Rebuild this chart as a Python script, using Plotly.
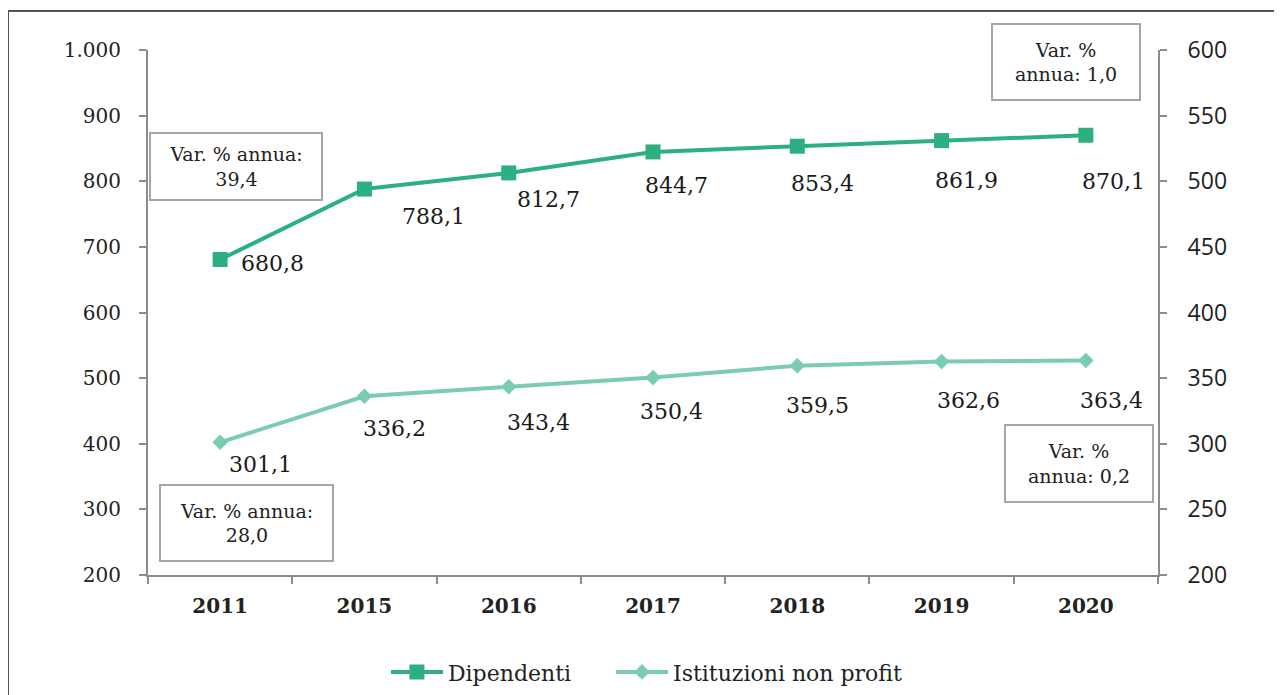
import plotly.graph_objects as go

anni = ["2011", "2015", "2016", "2017", "2018", "2019", "2020"]
dipendenti = [680.8, 788.1, 812.7, 844.7, 853.4, 861.9, 870.1]
istituzioni = [301.1, 336.2, 343.4, 350.4, 359.5, 362.6, 363.4]

box_testi = ["Var. % annua:<br>39,4", "Var. % annua:<br>28,0",
             "Var. %<br>annua: 1,0", "Var. %<br>annua: 0,2"]

VERDE = "#2DB07F"
VERDE_CHIARO = "#7ACDAF"
GRIGIO = "#8C8C8C"
SERIF = "DejaVu Serif, serif"

# spostamenti (px) delle etichette rispetto al punto
off_dip = [(52, -4), (69, -27), (40, -27), (23, -34), (25, -37), (25, -40), (28, -46)]
off_ist = [(40, -22), (30, -32), (30, -36), (18, -34), (20, -40), (27, -39), (26, -40)]


def fmt(v):
    return f"{v:.1f}".replace(".", ",")


fig = go.Figure()
fig.add_trace(go.Scatter(x=anni, y=dipendenti, name="Dipendenti&nbsp;&nbsp;&nbsp;&nbsp;&nbsp;",
                         mode="lines+markers",
                         line=dict(color=VERDE, width=4),
                         marker=dict(symbol="square", size=15, color=VERDE)))
fig.add_trace(go.Scatter(x=anni, y=istituzioni, name="Istituzioni non profit", mode="lines+markers",
                         yaxis="y2",
                         line=dict(color=VERDE_CHIARO, width=4),
                         marker=dict(symbol="diamond", size=12, color=VERDE_CHIARO)))

annotazioni = []
# etichette valori (asse categorico: x = indice della categoria)
for i, v in enumerate(dipendenti):
    xs, ys = off_dip[i]
    annotazioni.append(dict(x=i, y=v, xref="x", yref="y", text=fmt(v), showarrow=False,
                            xshift=xs, yshift=ys, font=dict(family=SERIF, size=22, color="#1a1a1a")))
for i, v in enumerate(istituzioni):
    xs, ys = off_ist[i]
    annotazioni.append(dict(x=i, y=v, xref="x", yref="y2", text=fmt(v), showarrow=False,
                            xshift=xs, yshift=ys, font=dict(family=SERIF, size=22, color="#1a1a1a")))

# riquadri con variazione % annua
box_pos = [(0.0871, 0.778, 168, 63), (0.0975, 0.099, 169, 72),
           (0.909, 0.977, 144, 72), (0.922, 0.2124, 144, 73)]
for t, (bx, by, bw, bh) in zip(box_testi, box_pos):
    annotazioni.append(dict(x=bx, y=by, xref="paper", yref="paper", text=t, showarrow=False,
                            xanchor="center", yanchor="middle", width=bw, height=bh,
                            bordercolor="#A6A6A6", borderwidth=2, bgcolor="white",
                            font=dict(family=SERIF, size=19, color="#222")))

fig.update_layout(
    width=1274, height=687,
    margin=dict(l=140, r=124, t=42, b=120, autoexpand=False),
    paper_bgcolor="white", plot_bgcolor="white",
    separators=",.",
    showlegend=True,
    legend=dict(orientation="h", x=0.494, xanchor="center", y=-0.185, yanchor="middle",
                font=dict(family=SERIF, size=22, color="#222"), itemwidth=52,
                tracegroupgap=0),
    annotations=annotazioni,
    xaxis=dict(type="category", range=[-0.5, 6.5], showline=True, linecolor=GRIGIO, linewidth=2,
               ticks="outside", tickson="boundaries", ticklen=7, tickcolor=GRIGIO, tickwidth=2,
               ticklabelstandoff=12,
               showgrid=False, tickfont=dict(family=SERIF, size=20, color="#222", weight="bold")),
    yaxis=dict(range=[200, 1000], dtick=100, tickformat=",", showline=True, linecolor=GRIGIO,
               linewidth=2, ticks="outside", ticklen=7, tickcolor=GRIGIO, tickwidth=2,
               ticklabelstandoff=14,
               showgrid=False, zeroline=False,
               tickfont=dict(family=SERIF, size=20, color="#222")),
    yaxis2=dict(range=[200, 600], dtick=50, overlaying="y", side="right", showline=True,
                linecolor=GRIGIO, linewidth=2, ticks="outside", ticklen=7, tickcolor=GRIGIO,
                tickwidth=2, showgrid=False, zeroline=False, ticklabelstandoff=16,
                tickfont=dict(family="Open Sans, Liberation Sans, sans-serif", size=23, color="#222")),
    shapes=[
        dict(type="line", xref="paper", yref="paper", x0=-0.1386, x1=1.13, y0=1.0743, y1=1.0743,
             line=dict(color="#555", width=2)),
        dict(type="line", xref="paper", yref="paper", x0=-0.1386, x1=-0.1386, y0=1.0743, y1=-0.24,
             line=dict(color="#555", width=2)),
    ],
)

fig.write_html("out.html")
